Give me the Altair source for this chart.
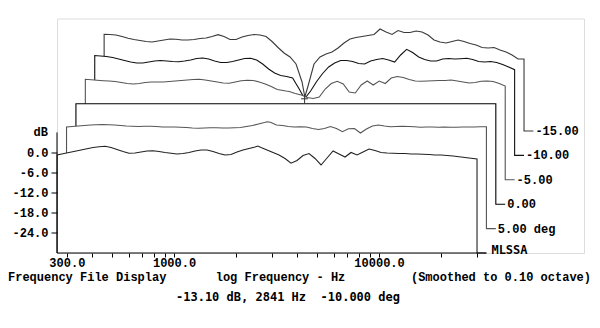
import altair as alt
import pandas as pd

# ---------------- data ----------------
FREQ = [269, 287, 307, 329, 352, 376, 403, 431, 461, 493, 527, 564, 603, 645, 690,
        738, 790, 845, 904, 967, 1034, 1106, 1184, 1266, 1354, 1449, 1550, 1658,
        1774, 1897, 2029, 2171, 2322, 2484, 2563, 2657, 2842, 3040, 3252, 3479,
        3722, 3981, 4259, 4556, 4873, 5213, 5577, 5966, 6382, 6826, 7302, 7811,
        8356, 8939, 9561, 10230, 10940, 11700, 12520, 13390, 14330, 15320, 16390,
        17540, 18760, 20070, 21470, 22960, 24560, 26270, 28110, 30060]

DB_P10 = [-0.75, -0.39, 0.0, 0.36, 0.75, 1.1, 1.49, 1.73, 1.85, 1.49, 0.9, 0.3, -0.24,
          -0.15, 0.15, 0.45, 0.54, 0.3, 0.0, -0.24, -0.45, -0.3, 0.0, 0.45, 0.75, 0.75,
          0.3, -0.3, -0.75, -0.6, 0.15, 0.75, 1.19, 1.64, 1.94, 1.49, 0.75, 0.0, -0.75,
          -1.79, -3.2, -2.4, -0.9, -0.3, -1.79, -3.73, -1.64, 0.45, -0.45, -1.34, 0.0,
          -0.75, 0.15, 1.04, 0.6, 0.0, -0.15, -0.24, -0.3, -0.3, -0.45, -0.45, -0.54,
          -0.6, -0.75, -0.75, -0.9, -1.04, -1.25, -1.49, -1.73, -1.94]

DB_P5 = [0.33, 0.48, 0.63, 0.78, 0.93, 1.01, 1.07, 1.01, 0.93, 0.78, 0.63, 0.54, 0.48,
         0.54, 0.54, 0.48, 0.33, 0.33, 0.33, 0.24, 0.18, 0.03, -0.06, 0.03, 0.12, 0.12,
         0.03, 0.03, 0.12, 0.18, 0.48, 0.78, 1.22, 1.67, 1.9, 1.73, 0.93, 0.78, 0.48,
         0.33, 0.42, 0.33, -0.12, -0.42, -0.12, 0.48, -0.12, -1.07, -0.18, -0.12, -1.46,
         -0.27, 0.63, 0.93, 0.63, 0.42, 0.48, 0.54, 0.48, 0.42, 0.24, 0.33, 0.33, 0.24,
         0.33, 0.24, 0.24, 0.33, 0.33, 0.33, 0.42, 0.42]

DB_0 = [0.0] * len(FREQ)  # reference axis, normalised flat

DB_M5 = [0.0, -0.15, -0.3, -0.42, -0.51, -0.66, -0.96, -1.25, -1.4, -1.25, -0.96, -0.81,
         -0.81, -0.81, -0.66, -0.51, -0.36, -0.21, -0.06, 0.0, -0.21, -0.51, -0.81, -1.1,
         -1.19, -0.81, -0.42, -0.3, -0.36, -0.81, -1.4, -2.15, -3.04, -3.34, -3.49, -3.64,
         -4.24, -4.69, -5.43, -5.73, -5.28, -2.9, -1.25, -0.6, -1.4, -3.79, -4.09, -1.7,
         -0.51, -1.7, -0.51, -1.25, 0.39, 0.84, 0.54, -0.06, -0.51, -0.6, -0.51, -0.42,
         -0.36, -0.36, -0.21, -0.51, -0.81, -1.1, -0.96, -0.6, -0.51, -0.66, -1.25, -2.0]

DB_M10 = [-0.18, -0.33, -0.48, -0.78, -1.22, -1.67, -2.12, -2.42, -2.42, -2.12, -1.82,
          -1.67, -1.82, -1.97, -2.03, -1.82, -1.52, -1.07, -0.93, -1.22, -1.82, -2.27,
          -2.27, -1.97, -1.52, -1.07, -1.01, -1.52, -2.72, -4.21, -5.4, -6.15, -6.45,
          -6.9, -8.3, -9.88, -13.1, -10.78, -7.94, -5.55, -3.61, -2.42, -1.67, -1.67,
          -1.97, -2.57, -2.72, -1.82, -1.37, -1.07, -1.52, -2.12, -0.03, 1.67, 0.72,
          -0.63, -1.37, -1.82, -1.82, -1.22, -1.07, -1.22, -1.13, -1.01, -1.37, -1.97,
          -2.12, -1.97, -2.27, -2.87, -3.61, -4.42]

DB_M15 = [-1.13, -1.19, -1.34, -1.79, -2.33, -2.69, -2.99, -3.28, -3.43, -3.13, -2.84,
          -2.54, -2.63, -2.84, -2.84, -2.69, -2.39, -2.24, -1.79, -1.25, -1.79, -2.69,
          -2.69, -1.94, -1.49, -1.19, -1.34, -1.79, -3.28, -5.07, -6.72, -7.91, -10.0,
          -15.37, -19.85, -16.57, -10.0, -7.91, -7.01, -6.42, -5.22, -3.73, -2.54, -2.09,
          -1.79, -1.49, -1.19, 0.45, -0.45, -1.19, 0.0, -0.6, -0.6, -0.15, -0.45, -1.34,
          -2.84, -3.43, -3.73, -3.28, -2.84, -3.28, -3.88, -4.33, -5.07, -5.22, -5.07,
          -5.82, -6.42, -7.31, -8.51, -8.51]

TRACES = [DB_P10, DB_P5, DB_0, DB_M5, DB_M10, DB_M15]        # front to back
ANGLE_LABELS = ["", "5.00 deg", "0.00", "-5.00", "-10.00", "-15.00"]
TRACE_COLORS = ["#222222", "#555555", "#000000", "#555555", "#111111", "#3a3a3a"]

X_TICKS = [300, 400, 500, 600, 700, 800, 900, 1000, 2000, 3000, 4000, 5000, 6000,
           7000, 8000, 9000, 10000, 20000, 30000]
X_TICK_LABELS = {300: "300.0", 1000: "1000.0", 10000: "10000.0"}
Y_TICKS = [0, -6, -12, -18, -24]

CURSOR_FREQ, CURSOR_DB, CURSOR_TRACE = 2841, -13.10, 4
CURSOR_TEXT = "-13.10 dB, 2841 Hz \u00a0-10.000 deg"

# ---------------- layout constants ----------------
W, H = 527, 234.5
PX_PER_DEC = 205.0
XMIN = 268.6
XMAX = XMIN * 10 ** (W / PX_PER_DEC)
YMIN, YMAX = -30.0, 40.0
PX_PER_DB = H / (YMAX - YMIN)
DX = 9.4 / PX_PER_DEC          # waterfall step, decades
DY = 24.4 / PX_PER_DB          # waterfall step, dB

FONT = "Liberation Mono"
FS = 12

xscale = alt.Scale(type="log", domain=[XMIN, XMAX], nice=False, zero=False)
yscale = alt.Scale(domain=[YMIN, YMAX], nice=False, zero=False)

x_label_expr = " : ".join(
    f"datum.value == {v} ? '{s}'" for v, s in X_TICK_LABELS.items()) + " : ''"

X_AXIS = alt.Axis(values=X_TICKS, labelExpr=x_label_expr, domain=False,
                  tickSize=4, tickColor="black", tickWidth=1, grid=False,
                  title=None, labelFont=FONT, labelFontSize=FS,
                  labelFontWeight="bold", labelColor="black",
                  labelPadding=0.5, labelOverlap=False, labelFlush=False,
                  labelBound=False, zindex=2)
Y_AXIS = alt.Axis(values=Y_TICKS,
                  labelExpr="datum.value == 0 ? '0.0' : datum.value + '.0'",
                  domain=False, tickSize=6, tickColor="black", tickWidth=1,
                  grid=False, title=None, labelFont=FONT, labelFontSize=FS,
                  labelFontWeight="bold", labelColor="black", labelPadding=3,
                  zindex=2)


# every layer carries the identical axis definition so that they merge cleanly
def X(field):
    return alt.X(field, type="quantitative", scale=xscale, axis=X_AXIS)


def Y(field):
    return alt.Y(field, type="quantitative", scale=yscale, axis=Y_AXIS)


layers = []
label_rows = []
for k in reversed(range(len(TRACES))):
    vals = TRACES[k]
    fac = 10 ** (k * DX)
    base = YMIN + k * DY
    area_df = pd.DataFrame({
        "x": [f * fac for f in FREQ],
        "y": [v + k * DY for v in vals],
        "b": [base] * len(FREQ),
    })
    xs = [FREQ[0] * fac] + [f * fac for f in FREQ] + [FREQ[-1] * fac, FREQ[-1] * fac * 10 ** DX]
    ys = [base] + [v + k * DY for v in vals] + [base, base]
    line_df = pd.DataFrame({"x": xs, "y": ys, "i": list(range(len(xs)))})
    layers.append(
        alt.Chart(area_df).mark_area(color="white", opacity=1, strokeWidth=0).encode(
            x=X("x"), y=Y("y"), y2=alt.Y2("b"))
    )
    layers.append(
        alt.Chart(line_df).mark_line(color=TRACE_COLORS[k], strokeWidth=1.1).encode(
            x=X("x"), y=Y("y"), order="i:Q")
    )
    if ANGLE_LABELS[k]:
        label_rows.append({"x": FREQ[-1] * fac * 10 ** DX, "y": base, "t": ANGLE_LABELS[k]})

labels = alt.Chart(pd.DataFrame(label_rows)).mark_text(
    align="left", baseline="middle", dx=2, font=FONT, fontSize=FS, fontWeight="bold",
    color="black").encode(x=X("x"), y=Y("y"), text="t:N")

x_axis_df = pd.DataFrame({"x": [XMIN], "xe": [FREQ[-1] * 10 ** DX], "y": [YMIN]})
x_axis_line = alt.Chart(x_axis_df).mark_rule(color="black", strokeWidth=1).encode(
    x=X("x"), x2=alt.X2("xe"), y=Y("y"))

y_axis_df = pd.DataFrame({"x": [XMIN], "y": [YMIN], "ye": [6.0]})
y_axis_line = alt.Chart(y_axis_df).mark_rule(color="black", strokeWidth=1).encode(
    y=Y("y"), y2=alt.Y2("ye"), x=X("x"))

db_label = alt.Chart(pd.DataFrame({"x": [XMIN], "y": [6.0], "t": ["dB"]})).mark_text(
    align="right", baseline="middle", dx=-9, font=FONT, fontSize=FS, fontWeight="bold",
    color="black").encode(x=X("x"), y=Y("y"), text="t:N")

mlssa = alt.Chart(pd.DataFrame({"x": [FREQ[-1] * 10 ** DX], "y": [YMIN], "t": ["MLSSA"]})).mark_text(
    align="left", baseline="middle", dx=5, dy=-3, font="DejaVu Sans Mono", fontSize=12,
    fontWeight="bold", color="black").encode(x=X("x"), y=Y("y"), text="t:N")

cursor = alt.Chart(pd.DataFrame({
    "x": [CURSOR_FREQ * 10 ** (CURSOR_TRACE * DX)],
    "y": [CURSOR_DB + CURSOR_TRACE * DY]})).mark_point(
    shape="M-1,0L1,0M0,-1L0,1.4", size=49, filled=False, stroke="#333333",
    strokeWidth=1, opacity=1).encode(x=X("x"), y=Y("y"))


def ann(text, px, py, align="left", font=FONT, size=FS):
    return alt.Chart(pd.DataFrame({"t": [text]})).mark_text(
        align=align, baseline="middle", font=font, fontSize=size, fontWeight="bold",
        color="black").encode(x=alt.value(px), y=alt.value(py), text="t:N")


bottom = [
    ann("Frequency File Display", -49, 258.5),
    ann("log Frequency - Hz", 158.7, 258.5),
    ann("(Smoothed to 0.10 octave)", 534, 258.5, align="right"),
    ann(CURSOR_TEXT, 119, 278.2, font="DejaVu Sans Mono", size=12),
]

chart = alt.layer(*layers, x_axis_line, y_axis_line, labels, db_label, mlssa, cursor,
                  *bottom).properties(
    width=W, height=H,
    padding={"left": 49, "top": 10.5, "right": 8, "bottom": 66},
    autosize=alt.AutoSizeParams(type="none"),
).configure_view(stroke=None).configure(background="white")

chart.save("out.html", embed_options={"renderer": "svg", "actions": False})
